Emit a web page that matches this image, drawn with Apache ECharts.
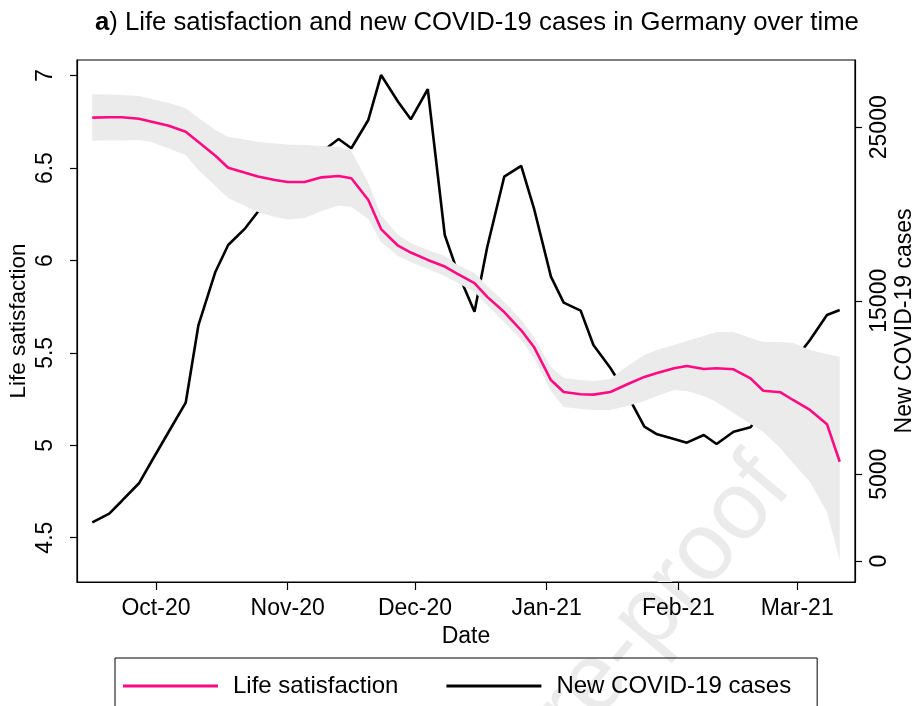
<!DOCTYPE html>
<html>
<head>
<meta charset="utf-8">
<script src="https://cdn.jsdelivr.net/npm/echarts@6/dist/echarts.min.js"></script>
<style>
  html, body { margin: 0; padding: 0; background: #fff; }
  #chart { width: 920px; height: 706px; }
</style>
</head>
<body>
<div id="chart"></div>
<script>
// survey waves
const dates = ['2020-09-16','2020-09-20','2020-09-23','2020-09-27','2020-09-30',
  '2020-10-04','2020-10-08','2020-10-11','2020-10-15','2020-10-18','2020-10-22','2020-10-25','2020-10-29',
  '2020-11-01','2020-11-05','2020-11-09','2020-11-13','2020-11-16','2020-11-20','2020-11-23','2020-11-27','2020-11-30',
  '2020-12-04','2020-12-08','2020-12-11','2020-12-15','2020-12-18','2020-12-22','2020-12-26','2020-12-29',
  '2021-01-02','2021-01-05','2021-01-09','2021-01-12','2021-01-16','2021-01-20','2021-01-24','2021-01-27','2021-01-31',
  '2021-02-03','2021-02-07','2021-02-10','2021-02-14','2021-02-18','2021-02-21','2021-02-25','2021-02-28',
  '2021-03-04','2021-03-08','2021-03-11'];

// life satisfaction (left axis)
const lifeSat = [6.773,6.775,6.775,6.767,6.751,6.729,6.697,6.641,6.567,6.502,6.475,6.455,6.436,
  6.425,6.425,6.450,6.457,6.445,6.327,6.170,6.080,6.043,
  6.003,5.967,5.927,5.878,5.803,5.721,5.622,5.532,
  5.353,5.288,5.276,5.274,5.288,5.330,5.370,5.391,5.417,
  5.429,5.413,5.417,5.411,5.362,5.295,5.287,5.245,
  5.191,5.114,4.911];

// confidence band
const lifeSatUpper = [6.899,6.898,6.896,6.890,6.874,6.852,6.824,6.771,6.706,6.668,6.655,6.641,6.633,
  6.628,6.625,6.620,6.614,6.593,6.419,6.246,6.138,6.095,
  6.057,6.024,5.976,5.932,5.862,5.775,5.678,5.586,
  5.424,5.364,5.353,5.348,5.359,5.429,5.489,5.516,5.543,
  5.564,5.591,5.613,5.613,5.581,5.559,5.559,5.554,
  5.516,5.494,5.478];
const lifeSatLower = [6.648,6.649,6.649,6.652,6.641,6.606,6.571,6.490,6.403,6.338,6.295,6.262,6.235,
  6.222,6.230,6.268,6.298,6.289,6.225,6.100,6.024,5.992,
  5.954,5.916,5.878,5.830,5.759,5.667,5.570,5.472,
  5.294,5.207,5.196,5.191,5.191,5.213,5.240,5.267,5.299,
  5.294,5.267,5.234,5.175,5.115,5.072,4.985,4.904,
  4.801,4.639,4.379];

// new COVID-19 cases (right axis)
const newCases = [2230,2730,3475,4480,5765,7450,9125,13600,16675,18215,19175,20130,21040,
  21900,22770,23575,24320,23790,25420,28010,26470,25460,
  27190,18790,16660,14370,18100,22150,22770,20330,
  16390,14890,14430,12450,11125,9570,7740,7300,7030,
  6820,7260,6745,7450,7705,8700,9855,11470,
  12740,14180,14470];

const monthTicks = ['2020-10-01','2020-11-01','2020-12-01','2021-01-01','2021-02-01','2021-03-01'];
const monthLabels = ['Oct-20','Nov-20','Dec-20','Jan-21','Feb-21','Mar-21'];
const lsTicks = [4.5, 5, 5.5, 6, 6.5, 7];
const caseTicks = [0, 5000, 15000, 25000];

// x = days since 1 Oct 2020
const DAY0 = Date.UTC(2020, 9, 1);
function dayNum(s) {
  const p = s.split('-').map(Number);
  return (Date.UTC(p[0], p[1] - 1, p[2]) - DAY0) / 86400000;
}
const xs = dates.map(dayNum);
const tickDays = monthTicks.map(dayNum);
const zip = arr => arr.map((v, i) => [xs[i], v]);

const FONT = '"Liberation Sans", Arial, Helvetica, sans-serif';
const PINK = '#ff0a82';
const BAND = '#ebebeb';

const chart = echarts.init(document.getElementById('chart'), null, { renderer: 'canvas' });

const axisBase = {
  axisLine: { show: true, onZero: false, lineStyle: { color: '#000', width: 1.2 } },
  splitLine: { show: false },
  nameMoveOverlap: false
};

chart.setOption({
  animation: false,
  backgroundColor: '#fff',
  textStyle: { fontFamily: FONT, color: '#000' },
  title: {
    text: '{b|a}) Life satisfaction and new COVID-19 cases in Germany over time',
    left: 90, top: 5,
    textStyle: {
      fontFamily: FONT, fontSize: 25.7, fontWeight: 'normal', color: '#000',
      rich: { b: { fontFamily: FONT, fontSize: 25.7, fontWeight: 'bold', color: '#000' } }
    }
  },
  legend: {
    data: ['Life satisfaction', 'New COVID-19 cases'],
    left: 115, top: 658,
    icon: 'rect', itemWidth: 95, itemHeight: 3, itemGap: 48,
    padding: [16, 26, 30, 8],
    borderColor: '#000', borderWidth: 1,
    textStyle: { fontFamily: FONT, fontSize: 24, color: '#000', padding: [0, 0, 0, 10] }
  },
  graphic: [{
    type: 'text', x: 810, y: 502, rotation: 0.87, z: 0, silent: true,
    style: { text: 'Pre-proof', fontSize: 96, fontFamily: FONT, fill: '#ebebeb', align: 'right', verticalAlign: 'bottom' }
  }],
  grid: {
    left: 77, right: 65, top: 60, bottom: 124, outerBoundsMode: 'none',
    show: true, borderColor: '#000', borderWidth: 1.2
  },
  xAxis: Object.assign({}, axisBase, {
    type: 'value', min: -18.6, max: 164.6,
    name: 'Date', nameLocation: 'middle', nameGap: 43,
    nameTextStyle: { fontFamily: FONT, fontSize: 23, color: '#000' },
    axisTick: { show: true, length: 8, customValues: tickDays, lineStyle: { color: '#000', width: 1.2 } },
    axisLabel: {
      customValues: tickDays, margin: 15, fontSize: 23, color: '#000', fontFamily: FONT,
      formatter: v => monthLabels[tickDays.indexOf(v)] || ''
    }
  }),
  yAxis: [Object.assign({}, axisBase, {
    type: 'value', position: 'left', min: 4.26, max: 7.085,
    name: 'Life satisfaction', nameLocation: 'middle', nameGap: 47,
    nameTextStyle: { fontFamily: FONT, fontSize: 22.5, color: '#000' },
    axisTick: { show: true, length: 7, customValues: lsTicks, lineStyle: { color: '#000', width: 1.2 } },
    axisLabel: { customValues: lsTicks, rotate: 90, margin: 20, fontSize: 23, color: '#000', fontFamily: FONT,
      formatter: v => String(v) }
  }), Object.assign({}, axisBase, {
    type: 'value', position: 'right', min: -1210, max: 28876,
    name: 'New COVID-19 cases', nameLocation: 'middle', nameGap: 38,
    nameTextStyle: { fontFamily: FONT, fontSize: 23, color: '#000' },
    axisTick: { show: true, length: 7, customValues: caseTicks, lineStyle: { color: '#000', width: 1.2 } },
    axisLabel: { customValues: caseTicks, rotate: 90, margin: 13, fontSize: 23, color: '#000', fontFamily: FONT,
      formatter: v => String(v) }
  })],
  series: [{
    name: 'New COVID-19 cases', type: 'line', yAxisIndex: 1, z: 2,
    data: zip(newCases), symbol: 'none',
    lineStyle: { color: '#000', width: 2.6 }, itemStyle: { color: '#000' }
  }, {
    name: 'ci', type: 'custom', yAxisIndex: 0, z: 3, silent: true,
    data: xs.map((x, i) => [x, lifeSatUpper[i], lifeSatLower[i]]),
    encode: { x: 0, y: [1, 2] },
    renderItem: (params, api) => {
      if (params.dataIndexInside !== 0) return;
      const pts = [];
      for (let i = 0; i < xs.length; i++) pts.push(api.coord([xs[i], lifeSatUpper[i]]));
      for (let i = xs.length - 1; i >= 0; i--) pts.push(api.coord([xs[i], lifeSatLower[i]]));
      return { type: 'polygon', shape: { points: pts }, style: { fill: BAND } };
    }
  }, {
    name: 'Life satisfaction', type: 'line', yAxisIndex: 0, z: 4,
    data: zip(lifeSat), symbol: 'none',
    lineStyle: { color: PINK, width: 2.6 }, itemStyle: { color: PINK }
  }]
});
</script>
</body>
</html>
